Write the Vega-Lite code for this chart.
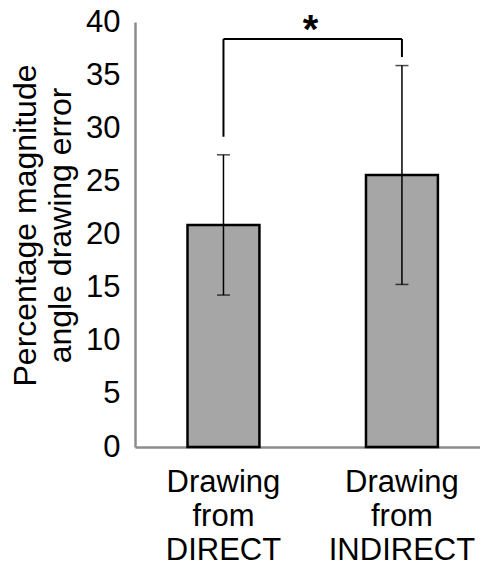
{
  "$schema": "https://vega.github.io/schema/vega-lite/v6.json",
  "width": 345,
  "height": 425,
  "autosize": {"type": "none"},
  "padding": {"left": 135, "top": 22, "right": 0, "bottom": 120},
  "background": "white",
  "config": {
    "view": {"stroke": null},
    "font": "Liberation Sans"
  },
  "datasets": {
    "bars": [
      {"group": "Drawing from DIRECT", "mean": 20.9, "lo": 14.3, "hi": 27.5},
      {"group": "Drawing from INDIRECT", "mean": 25.6, "lo": 15.3, "hi": 35.9}
    ],
    "bracketV": [
      {"group": "Drawing from DIRECT", "y": 29.2, "y2": 38.4},
      {"group": "Drawing from INDIRECT", "y": 36.7, "y2": 38.4}
    ],
    "bracketH": [
      {"g1": "Drawing from DIRECT", "g2": "Drawing from INDIRECT", "y": 38.4}
    ],
    "star": [
      {"y": 39.9, "label": "*"}
    ]
  },
  "layer": [
    {
      "data": {"name": "bars"},
      "mark": {"type": "bar", "fill": "#a6a6a6", "stroke": "#000000", "strokeWidth": 2.5},
      "encoding": {
        "x": {
          "field": "group", "type": "nominal", "sort": null,
          "scale": {"paddingInner": 0.597, "paddingOuter": 0.265, "align": 0.555},
          "axis": {
            "title": null, "labelAngle": 0, "ticks": false,
            "labelExpr": "split(datum.label, ' ')",
            "labelFontSize": 31, "labelLineHeight": 34, "labelPadding": 20,
            "labelColor": "#000000",
            "domainColor": "#8c8c8c", "domainWidth": 2.5
          }
        },
        "y": {
          "field": "mean", "type": "quantitative",
          "scale": {"domain": [0, 40], "nice": false},
          "axis": {
            "title": ["Percentage magnitude", "angle drawing error"],
            "values": [0, 5, 10, 15, 20, 25, 30, 35, 40],
            "grid": false, "ticks": false,
            "labelFontSize": 31, "labelPadding": 15, "labelColor": "#000000",
            "titleFontSize": 32, "titleFontWeight": "normal", "titleColor": "#000000",
            "titleLineHeight": 35, "titlePadding": 8, "titleY": 203,
            "domainColor": "#8c8c8c", "domainWidth": 2.5
          }
        }
      }
    },
    {
      "data": {"name": "bars"},
      "mark": {"type": "rule", "color": "#000000", "strokeWidth": 1.5},
      "encoding": {
        "x": {"field": "group", "type": "nominal", "sort": null},
        "y": {"field": "lo", "type": "quantitative"},
        "y2": {"field": "hi"}
      }
    },
    {
      "data": {"name": "bars"},
      "mark": {"type": "tick", "color": "#000000", "thickness": 1.5, "size": 13, "orient": "horizontal"},
      "encoding": {
        "x": {"field": "group", "type": "nominal", "sort": null},
        "y": {"field": "lo", "type": "quantitative"}
      }
    },
    {
      "data": {"name": "bars"},
      "mark": {"type": "tick", "color": "#000000", "thickness": 1.5, "size": 13, "orient": "horizontal"},
      "encoding": {
        "x": {"field": "group", "type": "nominal", "sort": null},
        "y": {"field": "hi", "type": "quantitative"}
      }
    },
    {
      "data": {"name": "bracketV"},
      "mark": {"type": "rule", "color": "#000000", "strokeWidth": 2},
      "encoding": {
        "x": {"field": "group", "type": "nominal", "sort": null},
        "y": {"field": "y", "type": "quantitative"},
        "y2": {"field": "y2"}
      }
    },
    {
      "data": {"name": "bracketH"},
      "mark": {"type": "rule", "color": "#000000", "strokeWidth": 2},
      "encoding": {
        "x": {"field": "g1", "type": "nominal", "sort": null},
        "x2": {"field": "g2"},
        "y": {"field": "y", "type": "quantitative"}
      }
    },
    {
      "data": {"name": "star"},
      "mark": {"type": "text", "fontSize": 40, "fontWeight": "bold", "color": "#000000", "baseline": "middle", "align": "center", "dy": 8, "dx": 3},
      "encoding": {
        "y": {"field": "y", "type": "quantitative"},
        "text": {"field": "label"}
      }
    }
  ]
}
